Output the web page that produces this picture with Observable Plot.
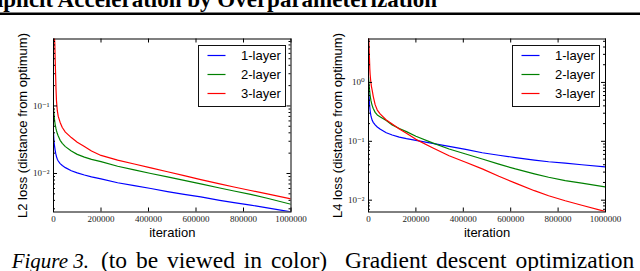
<!DOCTYPE html>
<html><head><meta charset="utf-8">
<script src="https://cdn.jsdelivr.net/npm/d3@7"></script>
<script src="https://cdn.jsdelivr.net/npm/@observablehq/plot@0.6"></script>
<style>
html,body{margin:0;padding:0;background:#fff;}
#wrap{position:relative;width:640px;height:271px;overflow:hidden;font-family:"Liberation Sans",Arial,sans-serif;}
#wrap > *{position:absolute;}
</style></head><body><div id="wrap"></div>
<script>
// ---- data ----
const seriesNames = ["1-layer", "2-layer", "3-layer"];
const seriesColors = ["#0000ff", "#008000", "#ff0000"];
const xTicks = [0, 200000, 400000, 600000, 800000, 1000000];
const xTickLabels = ["0", "200000", "400000", "600000", "800000", "1000000"];

const iterations = [0, 2000, 4000, 5500, 7000, 9000, 10500, 12500, 16000, 20000, 28000, 37000, 50000, 75000, 100000, 130000, 160000, 200000, 270000, 340000, 410000, 480000, 550000, 620000, 700000, 760000, 830000, 900000, 1000000];

// L2 loss (left panel)
const l2Layer1 = [0.040, 0.030, 0.026, 0.024, 0.022, 0.020, 0.019, 0.0178, 0.0163, 0.0153, 0.0140, 0.0131, 0.0122, 0.0110, 0.0102, 0.0095, 0.0089, 0.0083, 0.0073, 0.0066, 0.0060, 0.0054, 0.0049, 0.0045, 0.0040, 0.0037, 0.0034, 0.0031, 0.0027];
const l2Layer2 = [0.092, 0.075, 0.064, 0.058, 0.053, 0.049, 0.046, 0.043, 0.039, 0.036, 0.031, 0.028, 0.025, 0.0215, 0.0192, 0.0175, 0.0162, 0.0150, 0.0128, 0.0113, 0.0100, 0.0089, 0.0079, 0.0070, 0.0061, 0.0055, 0.0049, 0.0043, 0.0035];
const l2Layer3 = [1.3, 1.15, 1.0, 0.85, 0.5, 0.28, 0.18, 0.12, 0.085, 0.070, 0.057, 0.048, 0.041, 0.034, 0.029, 0.025, 0.0215, 0.0185, 0.0158, 0.0138, 0.0121, 0.0106, 0.0093, 0.0081, 0.0070, 0.0063, 0.0056, 0.0050, 0.0042];

// L4 loss (right panel)
const l4Layer1 = [0.9, 0.6, 0.45, 0.38, 0.33, 0.29, 0.27, 0.25, 0.225, 0.21, 0.19, 0.175, 0.16, 0.14, 0.128, 0.118, 0.111, 0.104, 0.092, 0.082, 0.073, 0.064, 0.058, 0.053, 0.048, 0.045, 0.0425, 0.040, 0.0368];
const l4Layer2 = [1.25, 0.95, 0.78, 0.68, 0.60, 0.53, 0.49, 0.45, 0.40, 0.36, 0.31, 0.28, 0.26, 0.225, 0.19, 0.165, 0.146, 0.122, 0.094, 0.074, 0.061, 0.050, 0.041, 0.034, 0.028, 0.0245, 0.0215, 0.0195, 0.0168];
const l4Layer3 = [7, 4.5, 2.6, 1.7, 1.35, 1.1, 0.98, 0.85, 0.72, 0.58, 0.42, 0.34, 0.29, 0.23, 0.197, 0.162, 0.137, 0.108, 0.078, 0.057, 0.044, 0.034, 0.0255, 0.0195, 0.0145, 0.0119, 0.0098, 0.0082, 0.0064];

const l2YDomain = [0.00269, 0.98];
const l4YDomain = [0.0063, 5.47];
const l2YTicks = [0.01, 0.1];
const l2YTickLabels = ["10\u207B\u00B2", "10\u207B\u00B9"];
const l4YTicks = [0.01, 0.1, 1];
const l4YTickLabels = ["10\u207B\u00B2", "10\u207B\u00B9", "10\u2070"];

const titleText = "Implicit Acceleration by Overparameterization";
const captionParts = ["Figure 3.", "(to be viewed in color)", "Gradient descent optimization"];

// ---- chart builder ----
function minorTicks(domain) {
  const out = [];
  for (let e = -4; e <= 1; e++) for (let k = 2; k <= 9; k++) {
    const v = k * Math.pow(10, e);
    if (v >= domain[0] && v <= domain[1]) out.push(v);
  }
  return out;
}

function chart({values, yDomain, yTicks, yTickLabels, ylabel, marginLeft, marginRight}) {
  const W = 320, H = 245, mt = 38.5, mb = 33.5;
  const innerH = H - mt - mb, innerW = W - marginLeft - marginRight;
  const data = [];
  seriesNames.forEach((s, i) => iterations.forEach((t, j) => data.push({iter: t, v: values[i][j], s})));
  const yMinor = minorTicks(yDomain);
  const xLab = new Map(xTicks.map((d, i) => [d, xTickLabels[i]]));
  const yLab = new Map(yTicks.map((d, i) => [d, yTickLabels[i]]));
  const serif = "Liberation Serif, DejaVu Serif, serif";
  return Plot.plot({
    width: W, height: H, marginLeft, marginRight, marginTop: mt, marginBottom: mb,
    x: {domain: [0, 1000000]},
    y: {type: "log", domain: yDomain},
    color: {domain: seriesNames, range: seriesColors},
    style: {background: "transparent", fontFamily: "Liberation Sans, Arial, sans-serif", overflow: "visible"},
    marks: [
      Plot.line(data, {x: "iter", y: "v", stroke: "s", strokeWidth: 1.2, clip: true}),
      Plot.tickX(xTicks, {x: d => d, insetTop: innerH - 4, stroke: "black"}),
      Plot.tickX(xTicks, {x: d => d, insetBottom: innerH - 4, stroke: "black"}),
      Plot.tickY(yTicks, {y: d => d, insetRight: innerW - 4, stroke: "black"}),
      Plot.tickY(yTicks, {y: d => d, insetLeft: innerW - 4, stroke: "black"}),
      Plot.tickY(yMinor, {y: d => d, insetRight: innerW - 2, stroke: "black"}),
      Plot.tickY(yMinor, {y: d => d, insetLeft: innerW - 2, stroke: "black"}),
      Plot.frame({stroke: "black", strokeWidth: 1}),
      Plot.axisX({ticks: xTicks, tickFormat: d => xLab.get(d), tickSize: 0, tickPadding: 4, fontSize: 9, fontFamily: serif, label: null, fill: "#222"}),
      Plot.axisY({ticks: yTicks, tickFormat: d => yLab.get(d), tickSize: 0, tickPadding: 4, fontSize: 9, fontFamily: serif, label: null, fill: "#222"}),
      Plot.text([ylabel], {frameAnchor: "left", textAnchor: "middle", lineAnchor: "middle", rotate: -90, dx: -31, fontSize: 13, fill: "black"}),
      Plot.text(["iteration"], {frameAnchor: "bottom", lineAnchor: "bottom", dy: 24.5, fontSize: 13, fill: "black"})
    ]
  });
}

const NS = "http://www.w3.org/2000/svg";
function el(tag, attrs, parent, text) {
  const e = document.createElementNS(NS, tag);
  for (const k in attrs) e.setAttribute(k, attrs[k]);
  if (text != null) e.textContent = text;
  if (parent) parent.appendChild(e);
  return e;
}

function legend(left, top) {
  const svg = el("svg", {width: 88, height: 62});
  svg.style.left = left + "px"; svg.style.top = top + "px";
  el("rect", {x: 0.5, y: 0.5, width: 87, height: 61, fill: "white", stroke: "#111", "stroke-width": 1}, svg);
  seriesNames.forEach((s, i) => {
    const cy = 10.5 + 19 * i;
    el("line", {x1: 9.5, x2: 27.5, y1: cy, y2: cy, stroke: seriesColors[i], "stroke-width": 1.2}, svg);
    el("text", {x: 43, y: cy + 4.5, "font-size": 13, "font-family": "Liberation Sans, Arial, sans-serif", fill: "black"}, svg, s);
  });
  return svg;
}

const wrap = document.getElementById("wrap");

// title + rule + caption
const deco = el("svg", {width: 640, height: 271});
deco.style.left = "0px"; deco.style.top = "0px";
el("text", {x: 437, y: 7, "text-anchor": "end", "font-size": 23, "font-weight": "bold", "font-family": "Liberation Serif, serif", fill: "black"}, deco, titleText);
el("rect", {x: 0, y: 12.5, width: 640, height: 2.5, fill: "black"}, deco);
el("text", {x: 11.7, y: 268, "font-size": 21, "font-style": "italic", "font-family": "Liberation Serif, serif", fill: "black"}, deco, captionParts[0]);
const c2 = el("text", {x: 101, y: 268, "font-size": 23.5, "font-family": "Liberation Serif, serif", fill: "black"}, deco, captionParts[1]);
c2.style.wordSpacing = "3px";
const c3 = el("text", {x: 345, y: 268, "font-size": 23.5, "font-family": "Liberation Serif, serif", fill: "black"}, deco, captionParts[2]);
c3.style.wordSpacing = "3px";
wrap.appendChild(deco);

const left = chart({
  values: [l2Layer1, l2Layer2, l2Layer3], yDomain: l2YDomain, yTicks: l2YTicks, yTickLabels: l2YTickLabels,
  ylabel: "L2 loss (distance from optimum)", marginLeft: 53, marginRight: 29.5
});
left.style.left = "0px"; left.style.top = "0px";
wrap.appendChild(left);

const right = chart({
  values: [l4Layer1, l4Layer2, l4Layer3], yDomain: l4YDomain, yTicks: l4YTicks, yTickLabels: l4YTickLabels,
  ylabel: "L4 loss (distance from optimum)", marginLeft: 48, marginRight: 35
});
right.style.left = "320px"; right.style.top = "0px";
wrap.appendChild(right);

wrap.appendChild(legend(197.5, 44.5));
wrap.appendChild(legend(512, 44.5));
</script></body></html>
